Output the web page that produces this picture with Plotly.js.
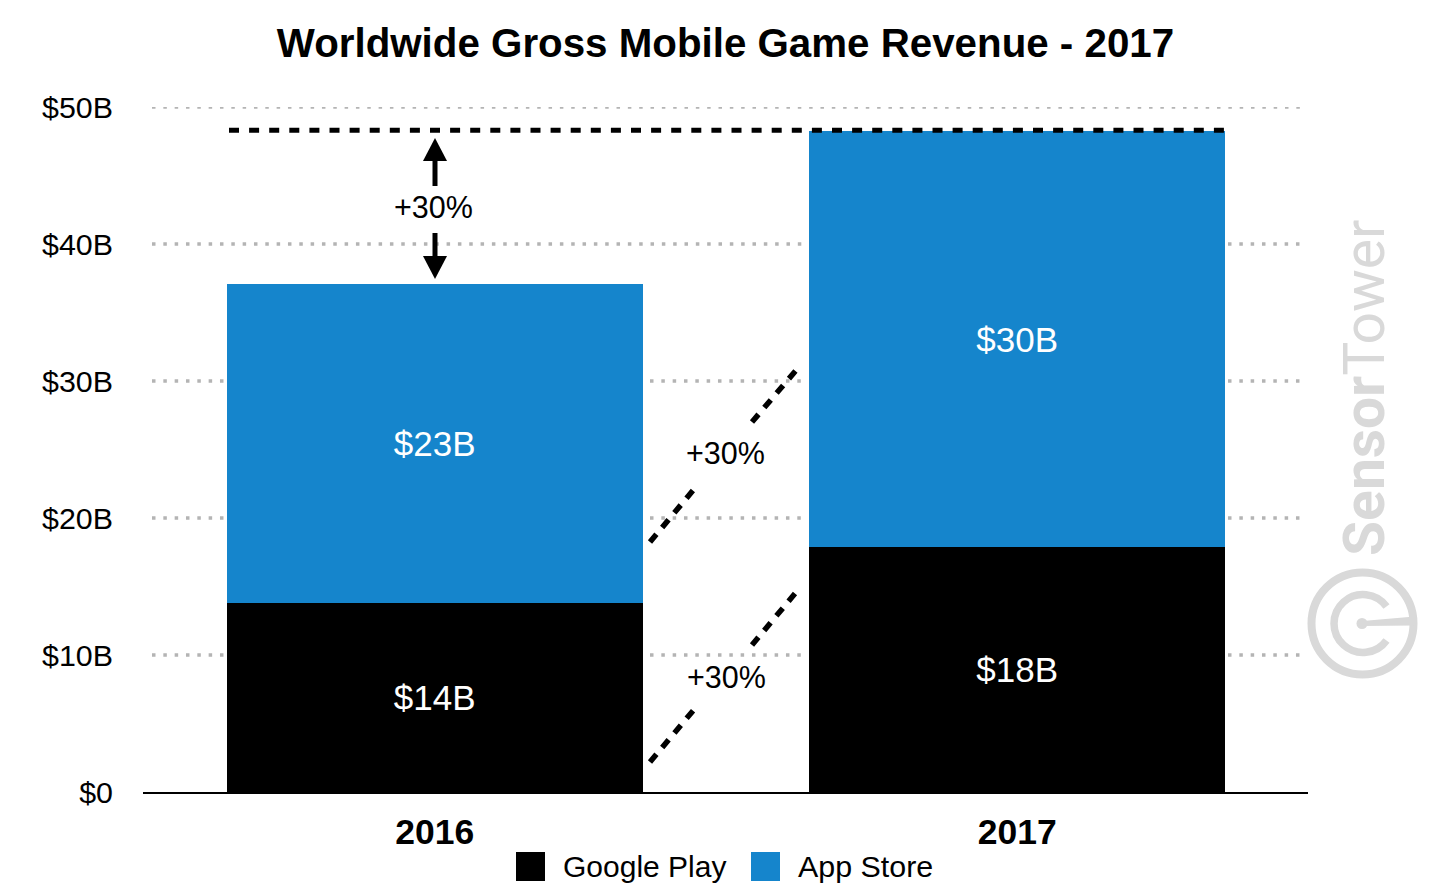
<!DOCTYPE html>
<html><head><meta charset="utf-8">
<script src="https://cdn.plot.ly/plotly-3.0.1.min.js"></script>
<style>html,body{margin:0;padding:0;background:#fff}</style></head>
<body><div id="chart" style="width:1450px;height:886px"></div>
<script>
const categories = ['2016', '2017'];
const googlePlay = [13.76, 17.88];
const appStore = [23.32, 30.37];
const googlePlayLabels = ['$14B', '$18B'];
const appStoreLabels = ['$23B', '$30B'];
const tickVals = [0, 10, 20, 30, 40, 50];
const tickText = ['$0', '$10B', '$20B', '$30B', '$40B', '$50B'];
const growthLabel = '+30%';
const totalLevel = 48.3;
const chartTitle = 'Worldwide Gross Mobile Game Revenue - 2017';
const FONT = '"Liberation Sans", Arial, sans-serif';
const W = 1450, H = 886, L = 143, R = 1308, T = 107, B = 792;
const PW = R - L, PH = B - T;
const px = x => (x - L) / PW, py = y => (B - y) / PH;
const seg = (x0, y0, x1, y1, width, dash, color) => ({type:'line', xref:'paper', yref:'paper', x0:px(x0), y0:py(y0), x1:px(x1), y1:py(y1), layer:'above', line:{color:color||'#000', width, dash}});
const tri = (a, b, c) => ({type:'path', xref:'paper', yref:'paper', layer:'above', fillcolor:'#000', line:{width:0},
  path:`M${px(a[0])},${py(a[1])}L${px(b[0])},${py(b[1])}L${px(c[0])},${py(c[1])}Z`});
const gridSpans = v => v === 50 ? [[152,1300]] : v === 40 ? [[152,803],[1228,1300]] : v === 0 ? [] : [[152,225],[650,803],[1228,1300]];
const shapes = [];
tickVals.forEach(v => gridSpans(v).forEach(s => shapes.push({type:'line', xref:'paper', yref:'y', x0:px(s[0]), x1:px(s[1]), y0:v, y1:v, layer:'below', line:{color:'#b4b4b4', width:3.5, dash:'3.5px,7.83px'}})));
shapes.push({type:'line', xref:'paper', yref:'y', x0:px(229), x1:px(1226), y0:totalLevel, y1:totalLevel, layer:'above', line:{color:'#000', width:5, dash:'10px,10.1px'}});
shapes.push(seg(650,542,695,488,5.5,'10px,9px'), seg(752,422,798,368,5.5,'10px,9px'));
shapes.push(seg(650,762,697,706,5.5,'10px,9px'), seg(752,645,798,590,5.5,'10px,9px'));
shapes.push(seg(435,161,435,186,5), tri([435,138],[423,161],[447,161]));
shapes.push(seg(435,233,435,256,5), tri([435,279],[423,256],[447,256]));
const swatch = (x, c) => ({type:'rect', xref:'paper', yref:'paper', x0:px(x), x1:px(x+29), y0:py(881), y1:py(852), fillcolor:c, line:{width:0}, layer:'above'});
shapes.push(swatch(516,'#000000'), swatch(751,'#1585cc'));
const note = (text, x, y, size, color, extra) => Object.assign({text, xref:'paper', yref:'paper', x:px(x), y:py(y), xanchor:'center', yanchor:'middle', showarrow:false, font:{family:FONT, size, color:color||'#000'}}, extra||{});
const annotations = [
  note(growthLabel, 433.5, 207, 30.5), note(growthLabel, 725, 453, 30.5), note(growthLabel, 726, 677, 30.5),
  note('Google Play', 644.5, 866, 30), note('App Store', 865.5, 866, 30.4),
  note('<b>Sensor</b>Tower', 1364, 388, 57, '#d9d9d9', {textangle:-90, font:{family:'Roboto, '+FONT, size:57, color:'#d9d9d9'}})
];
const logo = `<svg xmlns="http://www.w3.org/2000/svg" width="120" height="120" viewBox="0 0 120 120"><g fill="none" stroke="#d9d9d9"><circle cx="60" cy="60" r="51" stroke-width="8"/><path d="M 84 43 A 29 29 0 1 0 84 77" stroke-width="7.5"/></g><circle cx="59.5" cy="60" r="5.5" fill="#d9d9d9"/><path d="M60 57.5 L112 53 L112 62 L60 62.5 Z" fill="#d9d9d9"/></svg>`;
const bar = (name, y, text, color, tc) => ({type:'bar', name, x:categories, y, text, textposition:'inside', insidetextanchor:'middle', constraintext:'none', textangle:0, cliponaxis:false,
  textfont:{family:FONT, size:35, color:tc}, marker:{color, line:{width:0}}, hoverinfo:'skip', showlegend:false});
const data = [bar('Google Play', googlePlay, googlePlayLabels, '#000000', '#ffffff'), bar('App Store', appStore, appStoreLabels, '#1585cc', '#ffffff')];
const layout = {
  width:W, height:H, paper_bgcolor:'#fff', plot_bgcolor:'#fff', barmode:'stack', bargap:0.2855, showlegend:false,
  margin:{l:L, r:W-R, t:T, b:H-B, pad:0},
  font:{family:FONT, color:'#000'},
  title:{text:chartTitle, x:0.5, xref:'paper', xanchor:'center', y:1-43/H, yanchor:'middle', font:{family:FONT, size:40.3, weight:700, color:'#000'}},
  xaxis:{type:'category', range:[-0.5008,1.4992], showline:true, linecolor:'#000', linewidth:2, ticks:'', showgrid:false, zeroline:false, tickfont:{family:FONT, size:35.5, weight:700, color:'#000'}, ticklabelstandoff:7},
  yaxis:{range:[0,50], tickmode:'array', tickvals:tickVals, ticktext:tickText, showgrid:false, zeroline:false, showline:false, ticks:'', tickfont:{family:FONT, size:30.4, color:'#000'}, ticklabelstandoff:29},
  shapes, annotations,
  images:[{source:'data:image/svg+xml;utf8,'+encodeURIComponent(logo), xref:'paper', yref:'paper', x:px(1302.5), y:py(563.5), sizex:120/PW, sizey:120/PH, sizing:'stretch', xanchor:'left', yanchor:'top', layer:'above'}]
};
Plotly.newPlot('chart', data, layout, {displayModeBar:false, staticPlot:true});
</script></body></html>
